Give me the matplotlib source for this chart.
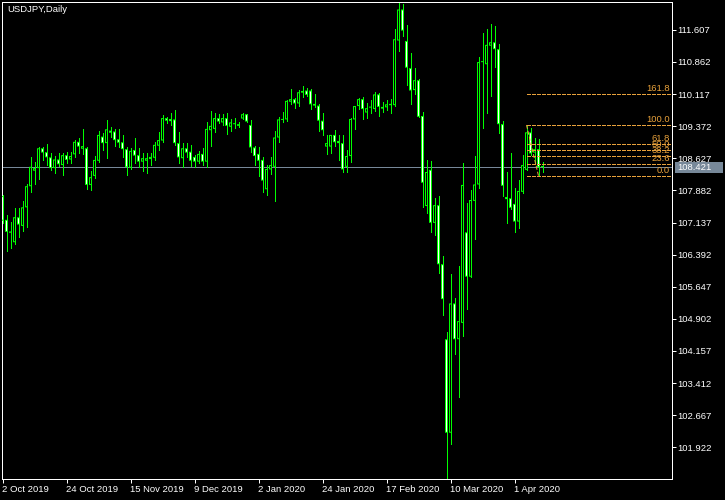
import matplotlib
matplotlib.use("Agg")
import matplotlib.pyplot as plt
import matplotlib.transforms as mtransforms
from matplotlib.patches import Rectangle
import numpy as np

# ---------------- data ----------------
chart_title = "USDJPY,Daily"

opens = [107.75, 107.20, 106.90, 106.68, 107.26, 107.06, 107.49, 107.98, 108.34, 108.40,
         108.86, 108.77, 108.65, 108.40, 108.60, 108.47, 108.70, 108.60, 108.72, 109.01,
         108.85, 108.86, 108.01, 108.22, 108.57, 109.13, 108.98, 109.27, 109.25, 109.07,
         109.00, 108.84, 108.41, 108.82, 108.70, 108.55, 108.57, 108.61, 108.64, 108.92,
         109.04, 109.56, 109.54, 109.53, 108.98, 108.63, 108.86, 108.78, 108.66, 108.55,
         108.73, 108.55, 109.28, 109.31, 109.56, 109.46, 109.56, 109.36, 109.42, 109.38,
         109.55, 109.65, 109.40, 108.88, 108.73, 108.59, 107.91, 108.37, 108.43, 109.11,
         109.52, 109.53, 109.94, 110.00, 109.90, 110.15, 110.20, 110.20, 109.89, 109.85,
         109.50, 108.90, 108.90, 109.17, 109.03, 108.98, 108.43, 108.68, 109.53, 109.84,
         110.00, 109.69, 109.81, 109.77, 110.11, 109.78, 109.81, 109.86, 109.86, 111.36,
         112.08, 111.35, 110.72, 110.21, 110.44, 109.61, 107.52, 108.36, 107.13, 107.54,
         106.17, 104.43, 102.26, 105.26, 104.43, 104.81, 106.91, 105.88, 107.64, 108.02,
         110.86, 110.81, 111.24, 111.32, 111.16, 109.42, 107.73, 107.70, 107.57, 107.16,
         107.85, 108.36, 109.23, 108.76, 108.84, 108.45]

highs = [107.78, 107.31, 107.15, 107.47, 107.48, 107.64, 108.03, 108.65, 108.54, 108.90,
         108.90, 108.96, 108.74, 108.69, 108.74, 108.74, 108.77, 108.78, 109.05, 109.11,
         109.31, 108.90, 108.33, 108.68, 109.25, 109.21, 109.52, 109.36, 109.30, 109.30,
         109.17, 108.90, 108.86, 109.09, 108.87, 108.74, 108.74, 108.76, 109.01, 109.24,
         109.63, 109.59, 109.69, 109.75, 109.23, 108.99, 108.99, 108.94, 108.71, 108.80,
         108.87, 109.48, 109.72, 109.69, 109.65, 109.65, 109.69, 109.54, 109.56, 109.48,
         109.69, 109.65, 109.52, 108.91, 108.88, 108.65, 108.47, 108.65, 109.26, 109.59,
         109.71, 109.98, 110.24, 110.03, 110.21, 110.30, 110.25, 110.23, 110.12, 109.89,
         109.67, 109.17, 109.17, 109.28, 109.17, 109.17, 108.82, 109.56, 109.85, 110.03,
         110.04, 109.92, 109.98, 110.16, 110.14, 109.94, 109.98, 110.00, 111.62, 112.24,
         112.21, 111.72, 111.06, 110.72, 110.46, 109.71, 108.59, 108.56, 107.70, 107.75,
         106.36, 104.60, 105.94, 105.39, 106.13, 108.51, 107.58, 107.89, 108.68, 110.97,
         111.54, 111.63, 111.74, 111.70, 111.28, 109.49, 108.30, 108.74, 107.95, 108.12,
         108.70, 109.40, 109.33, 109.11, 109.07, 108.55]

lows = [107.12, 106.48, 106.55, 106.64, 106.81, 106.93, 107.04, 107.85, 108.03, 108.15,
        108.59, 108.47, 108.36, 108.29, 108.46, 108.24, 108.51, 108.53, 108.66, 108.74,
        108.73, 107.91, 107.89, 108.18, 108.55, 108.82, 108.64, 109.13, 108.91, 108.90,
        108.66, 108.24, 108.38, 108.53, 108.42, 108.34, 108.28, 108.47, 108.59, 108.82,
        109.01, 109.44, 109.40, 108.94, 108.51, 108.43, 108.66, 108.45, 108.43, 108.53,
        108.47, 108.43, 108.91, 109.24, 109.45, 109.40, 109.19, 109.26, 109.32, 109.35,
        109.54, 109.46, 108.78, 108.47, 108.22, 107.85, 107.78, 108.26, 107.64, 109.01,
        109.48, 109.50, 109.88, 109.80, 109.85, 110.06, 110.07, 109.77, 109.81, 109.27,
        109.17, 108.73, 108.76, 108.91, 108.59, 108.32, 108.32, 108.55, 109.31, 109.76,
        109.54, 109.56, 109.69, 109.73, 109.62, 109.71, 109.75, 109.67, 109.84, 111.12,
        111.47, 110.33, 109.89, 110.12, 109.58, 107.50, 107.35, 106.92, 106.85, 105.97,
        104.99, 101.18, 102.00, 104.09, 103.10, 104.51, 105.13, 105.88, 106.76, 107.95,
        109.34, 109.67, 110.08, 110.75, 109.22, 107.76, 107.13, 107.45, 106.92, 107.02,
        107.82, 108.36, 108.70, 108.51, 108.22, 108.32]

closes = [107.18, 106.92, 106.93, 107.26, 107.09, 107.49, 107.98, 108.43, 108.40, 108.86,
          108.76, 108.65, 108.40, 108.60, 108.49, 108.70, 108.59, 108.68, 109.01, 108.90,
          108.91, 108.01, 108.19, 108.59, 109.17, 108.98, 109.30, 109.22, 109.05, 108.99,
          108.84, 108.42, 108.80, 108.69, 108.55, 108.63, 108.63, 108.66, 108.94, 109.05,
          109.56, 109.50, 109.49, 108.98, 108.65, 108.86, 108.76, 108.57, 108.55, 108.73,
          108.55, 109.31, 109.38, 109.56, 109.48, 109.56, 109.38, 109.46, 109.44, 109.42,
          109.65, 109.48, 108.88, 108.68, 108.57, 108.11, 108.38, 108.47, 109.11, 109.53,
          109.54, 109.96, 110.00, 109.90, 110.16, 110.19, 110.10, 109.88, 109.85, 109.50,
          109.28, 108.98, 109.17, 109.00, 108.98, 108.37, 108.68, 109.54, 109.84, 110.00,
          109.77, 109.79, 109.82, 110.11, 109.82, 109.82, 109.88, 109.89, 111.39, 112.08,
          111.59, 110.73, 110.20, 110.44, 109.59, 108.06, 108.31, 107.13, 107.54, 106.17,
          105.36, 102.26, 105.26, 104.43, 104.85, 108.01, 105.88, 107.66, 108.02, 110.86,
          110.88, 111.26, 111.32, 111.16, 109.42, 107.99, 107.68, 107.48, 107.16, 107.87,
          108.47, 109.23, 108.74, 108.84, 108.42, 108.421]

date_tick_bars = [0, 16, 32, 48, 64, 80, 96, 112, 128]
date_tick_labels = ["2 Oct 2019", "24 Oct 2019", "15 Nov 2019", "9 Dec 2019", "2 Jan 2020",
                    "24 Jan 2020", "17 Feb 2020", "10 Mar 2020", "1 Apr 2020"]

price_ticks = [111.607, 110.862, 110.117, 109.372, 108.627, 107.882, 107.137, 106.392,
               105.647, 104.902, 104.157, 103.412, 102.667, 101.922]

last_price = 108.421
fib_high_bar = 131
fib_low_bar = 134
fib_levels = [0.0, 23.6, 38.2, 50.0, 61.8, 100.0, 161.8]

# ---------------- style ----------------
BG = "#000000"
GREEN = "#00FF00"
FIB = "#E9A23B"
BIDLINE = "#778899"
FONT = "Liberation Sans"
FS = 6.8
PX = 72.0 / 100.0  # one pixel in points

W, H = 725, 500
fig = plt.figure(figsize=(W / 100, H / 100), dpi=100, facecolor=BG)
ax_left, ax_right, ax_top, ax_bottom = 2, 672, 2, 479
ax = fig.add_axes([ax_left / W, 1 - ax_bottom / H, (ax_right - ax_left) / W, (ax_bottom - ax_top) / H])
ax.set_facecolor(BG)

n = len(opens)
x = np.arange(n)
o = np.array(opens); c = np.array(closes); hi = np.array(highs); lo = np.array(lows)

ax.set_xlim(-0.125, 167.375)
ax.set_ylim(101.187, 112.254)
data_per_px = (ax.get_ylim()[1] - ax.get_ylim()[0]) / (ax_bottom - ax_top)

# bid line (behind candles)
ax.axhline(last_price, color=BIDLINE, lw=PX, zorder=1, antialiased=False)

# wicks
ax.vlines(x, lo, hi, color=GREEN, lw=PX, zorder=2, antialiased=False)

# bodies: green outer box (3 px) + 1 px inner fill (white = bearish, black = bullish)
bull = c >= o
bottoms = np.minimum(o, c)
heights = np.abs(c - o)
outer_h = np.maximum(heights, data_per_px)
outer = ax.bar(x, outer_h, bottom=bottoms + (heights - outer_h) / 2, width=0.75, color=GREEN,
               linewidth=0, zorder=3)
for p in outer:
    p.set_snap(False)
inner_h = heights - 2 * data_per_px
has_inner = inner_h > 0
for mask, col in ((has_inner & bull, BG), (has_inner & ~bull, "white")):
    inner = ax.bar(x[mask], inner_h[mask], bottom=bottoms[mask] + data_per_px, width=0.25,
                   color=col, linewidth=0, zorder=4)
    for p in inner:
        p.set_snap(False)

# Fibonacci retracement
f_hi = highs[fib_high_bar]
f_lo = lows[fib_low_bar]
xmax = ax.get_xlim()[1]
for lev in fib_levels:
    yv = f_lo + (f_hi - f_lo) * lev / 100.0
    ax.plot([fib_high_bar, xmax], [yv, yv], color=FIB, lw=PX, dashes=(4, 2), zorder=5,
            clip_on=False, antialiased=False)
    ax.annotate(f"{lev:.1f}", xy=(1.0, yv), xycoords=("axes fraction", "data"),
                xytext=(-2 * PX, 1 * PX), textcoords="offset points", ha="right", va="bottom",
                color=FIB, fontsize=FS, family=FONT, zorder=6)
ax.plot([fib_high_bar, fib_low_bar], [f_hi, f_lo], color=FIB, lw=PX, dashes=(4, 2), zorder=5)

# spines
for s in ax.spines.values():
    s.set_color("white")
    s.set_linewidth(PX)

# date axis
ax.set_xticks(date_tick_bars)
ax.set_xticklabels(date_tick_labels, fontsize=FS, family=FONT, color="white")
for lbl in ax.get_xticklabels():
    lbl.set_horizontalalignment("left")
ax.tick_params(axis="x", direction="out", length=4 * PX, width=PX, color="white", pad=1.5 * PX)

# price axis
ax.yaxis.tick_right()
ax.set_yticks(price_ticks)
ax.set_yticklabels([f"{p:.3f}" for p in price_ticks], fontsize=FS, family=FONT, color="white")
ax.tick_params(axis="y", direction="out", length=4 * PX, width=PX, color="white", pad=1.5 * PX)

# last price box
blend = mtransforms.blended_transform_factory(ax.transAxes, ax.transData)
ax_w_px = ax_right - ax_left
box_h = 11 * data_per_px
ax.add_patch(Rectangle(((675 - ax_left) / ax_w_px, last_price - box_h / 2), 48 / ax_w_px, box_h,
                       transform=blend, facecolor=BIDLINE, edgecolor="none", clip_on=False, zorder=7))
ax.text((677 - ax_left) / ax_w_px, last_price, f"{last_price:.3f}", transform=blend,
        ha="left", va="center", color="white", fontsize=FS, family=FONT, zorder=8, clip_on=False)

# title
ax.text(5 / ax_w_px, 1 - 3 / (ax_bottom - ax_top), chart_title, transform=ax.transAxes,
        ha="left", va="top", color="white", fontsize=FS, family=FONT, zorder=8)

fig.savefig("out.png", dpi=100, facecolor=BG)
